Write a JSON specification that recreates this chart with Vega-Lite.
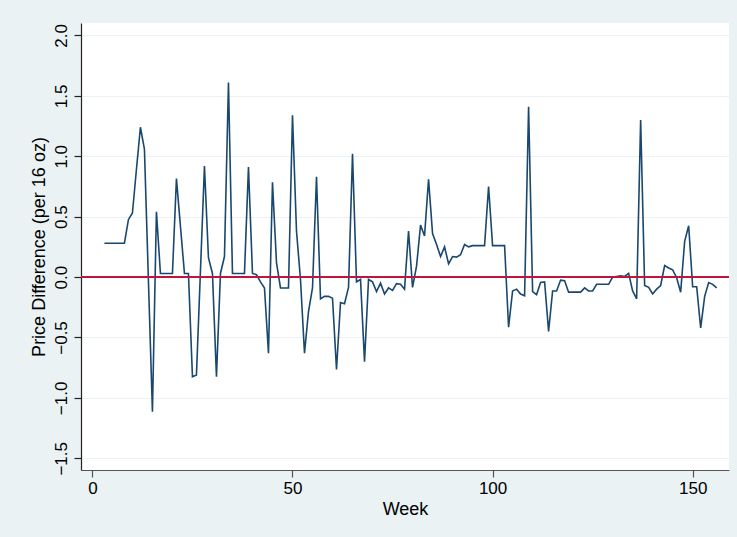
{
  "$schema": "https://vega.github.io/schema/vega-lite/v6.json",
  "autosize": {"type": "none"},
  "width": 648,
  "height": 447,
  "padding": {"left": 81, "top": 23, "right": 8, "bottom": 67},
  "background": "#EAF2F3",
  "config": {
    "view": {"fill": "white", "stroke": null},
    "font": "Liberation Sans",
    "axis": {
      "labelFont": "Liberation Sans",
      "titleFont": "Liberation Sans",
      "labelColor": "#000000",
      "titleColor": "#000000",
      "labelFontSize": 17,
      "titleFontSize": 18,
      "titleFontWeight": "normal",
      "tickSize": 7,
      "domainWidth": 1.2,
      "tickWidth": 1.2
    }
  },
  "data": {
    "values": [
      {"week": 3, "diff": 0.28}, {"week": 4, "diff": 0.28}, {"week": 5, "diff": 0.28}, {"week": 6, "diff": 0.28},
      {"week": 7, "diff": 0.28}, {"week": 8, "diff": 0.28}, {"week": 9, "diff": 0.475}, {"week": 10, "diff": 0.53},
      {"week": 11, "diff": 0.89}, {"week": 12, "diff": 1.24}, {"week": 13, "diff": 1.06}, {"week": 14, "diff": -0.03},
      {"week": 15, "diff": -1.115}, {"week": 16, "diff": 0.54}, {"week": 17, "diff": 0.03}, {"week": 18, "diff": 0.03},
      {"week": 19, "diff": 0.03}, {"week": 20, "diff": 0.03}, {"week": 21, "diff": 0.815}, {"week": 22, "diff": 0.42},
      {"week": 23, "diff": 0.03}, {"week": 24, "diff": 0.03}, {"week": 25, "diff": -0.825}, {"week": 26, "diff": -0.81},
      {"week": 27, "diff": 0.05}, {"week": 28, "diff": 0.92}, {"week": 29, "diff": 0.16}, {"week": 30, "diff": 0.03},
      {"week": 31, "diff": -0.825}, {"week": 32, "diff": 0.03}, {"week": 33, "diff": 0.17}, {"week": 34, "diff": 1.61},
      {"week": 35, "diff": 0.03}, {"week": 36, "diff": 0.03}, {"week": 37, "diff": 0.03}, {"week": 38, "diff": 0.03},
      {"week": 39, "diff": 0.91}, {"week": 40, "diff": 0.03}, {"week": 41, "diff": 0.02}, {"week": 42, "diff": -0.04},
      {"week": 43, "diff": -0.09}, {"week": 44, "diff": -0.63}, {"week": 45, "diff": 0.785}, {"week": 46, "diff": 0.12},
      {"week": 47, "diff": -0.09}, {"week": 48, "diff": -0.09}, {"week": 49, "diff": -0.09}, {"week": 50, "diff": 1.34},
      {"week": 51, "diff": 0.38}, {"week": 52, "diff": -0.02}, {"week": 53, "diff": -0.63}, {"week": 54, "diff": -0.285},
      {"week": 55, "diff": -0.09}, {"week": 56, "diff": 0.83}, {"week": 57, "diff": -0.18}, {"week": 58, "diff": -0.16},
      {"week": 59, "diff": -0.16}, {"week": 60, "diff": -0.175}, {"week": 61, "diff": -0.765}, {"week": 62, "diff": -0.21},
      {"week": 63, "diff": -0.22}, {"week": 64, "diff": -0.085}, {"week": 65, "diff": 1.02}, {"week": 66, "diff": -0.04},
      {"week": 67, "diff": -0.02}, {"week": 68, "diff": -0.7}, {"week": 69, "diff": -0.02}, {"week": 70, "diff": -0.04},
      {"week": 71, "diff": -0.12}, {"week": 72, "diff": -0.05}, {"week": 73, "diff": -0.14}, {"week": 74, "diff": -0.09},
      {"week": 75, "diff": -0.11}, {"week": 76, "diff": -0.055}, {"week": 77, "diff": -0.06}, {"week": 78, "diff": -0.1},
      {"week": 79, "diff": 0.38}, {"week": 80, "diff": -0.085}, {"week": 81, "diff": 0.09}, {"week": 82, "diff": 0.43},
      {"week": 83, "diff": 0.34}, {"week": 84, "diff": 0.81}, {"week": 85, "diff": 0.36}, {"week": 86, "diff": 0.27},
      {"week": 87, "diff": 0.17}, {"week": 88, "diff": 0.25}, {"week": 89, "diff": 0.11}, {"week": 90, "diff": 0.17},
      {"week": 91, "diff": 0.165}, {"week": 92, "diff": 0.185}, {"week": 93, "diff": 0.27}, {"week": 94, "diff": 0.25},
      {"week": 95, "diff": 0.26}, {"week": 96, "diff": 0.26}, {"week": 97, "diff": 0.26}, {"week": 98, "diff": 0.26},
      {"week": 99, "diff": 0.75}, {"week": 100, "diff": 0.26}, {"week": 101, "diff": 0.26}, {"week": 102, "diff": 0.26},
      {"week": 103, "diff": 0.26}, {"week": 104, "diff": -0.415}, {"week": 105, "diff": -0.115}, {"week": 106, "diff": -0.1},
      {"week": 107, "diff": -0.14}, {"week": 108, "diff": -0.155}, {"week": 109, "diff": 1.41}, {"week": 110, "diff": -0.12},
      {"week": 111, "diff": -0.145}, {"week": 112, "diff": -0.045}, {"week": 113, "diff": -0.04}, {"week": 114, "diff": -0.45},
      {"week": 115, "diff": -0.115}, {"week": 116, "diff": -0.115}, {"week": 117, "diff": -0.025}, {"week": 118, "diff": -0.03},
      {"week": 119, "diff": -0.125}, {"week": 120, "diff": -0.125}, {"week": 121, "diff": -0.125}, {"week": 122, "diff": -0.125},
      {"week": 123, "diff": -0.09}, {"week": 124, "diff": -0.115}, {"week": 125, "diff": -0.115}, {"week": 126, "diff": -0.06},
      {"week": 127, "diff": -0.06}, {"week": 128, "diff": -0.06}, {"week": 129, "diff": -0.06}, {"week": 130, "diff": 0.0},
      {"week": 131, "diff": 0.005}, {"week": 132, "diff": 0.01}, {"week": 133, "diff": 0.005}, {"week": 134, "diff": 0.03},
      {"week": 135, "diff": -0.115}, {"week": 136, "diff": -0.18}, {"week": 137, "diff": 1.3}, {"week": 138, "diff": -0.07},
      {"week": 139, "diff": -0.085}, {"week": 140, "diff": -0.14}, {"week": 141, "diff": -0.1}, {"week": 142, "diff": -0.07},
      {"week": 143, "diff": 0.095}, {"week": 144, "diff": 0.075}, {"week": 145, "diff": 0.06}, {"week": 146, "diff": -0.005},
      {"week": 147, "diff": -0.125}, {"week": 148, "diff": 0.295}, {"week": 149, "diff": 0.425}, {"week": 150, "diff": -0.08},
      {"week": 151, "diff": -0.08}, {"week": 152, "diff": -0.42}, {"week": 153, "diff": -0.16}, {"week": 154, "diff": -0.045},
      {"week": 155, "diff": -0.06}, {"week": 156, "diff": -0.09}
    ]
  },
  "layer": [
    {
      "mark": {"type": "line", "color": "#1A476F", "strokeWidth": 1.6, "clip": true},
      "encoding": {
        "x": {
          "field": "week", "type": "quantitative", "title": "Week",
          "scale": {"domain": [-2.85, 159.08], "nice": false, "zero": false},
          "axis": {
            "values": [0, 50, 100, 150], "grid": false, "format": "d",
            "domainColor": "#555555", "tickColor": "#555555",
            "labelPadding": 3, "titlePadding": 4
          }
        },
        "y": {
          "field": "diff", "type": "quantitative", "title": "Price Difference (per 16 oz)",
          "scale": {"domain": [-1.597, 2.103], "nice": false, "zero": false},
          "axis": {
            "values": [-1.5, -1, -0.5, 0, 0.5, 1, 1.5, 2], "format": ".1f",
            "grid": true, "gridColor": "#EAF2F3", "gridWidth": 1.2,
            "domainColor": "#222222", "tickColor": "#222222",
            "labelAngle": -90, "labelAlign": "center", "labelBaseline": "bottom",
            "labelPadding": 4, "titlePadding": 4
          }
        }
      }
    },
    {
      "mark": {"type": "rule", "color": "#C0143C", "strokeWidth": 1.4},
      "encoding": {"y": {"datum": 0}}
    }
  ]
}
